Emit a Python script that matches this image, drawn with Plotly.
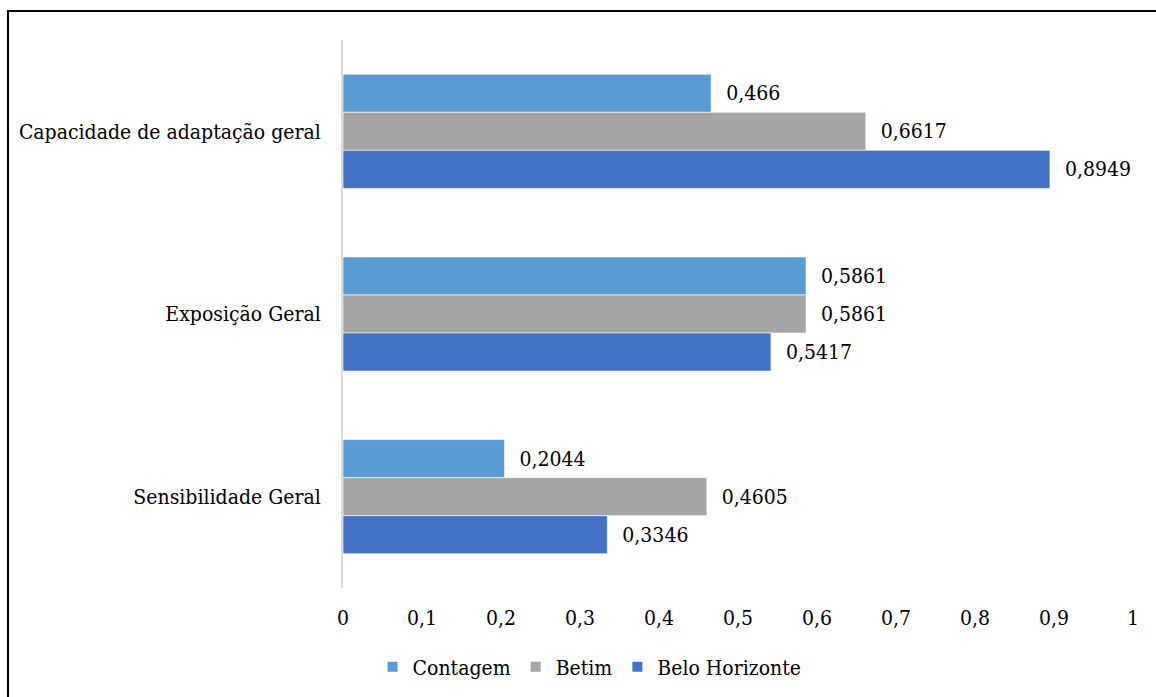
import plotly.graph_objects as go

categories = ["Capacidade de adaptação geral", "Exposição Geral", "Sensibilidade Geral"]
contagem = [0.466, 0.5861, 0.2044]
betim = [0.6617, 0.5861, 0.4605]
belo_horizonte = [0.8949, 0.5417, 0.3346]
series_names = ["Contagem", "Betim", "Belo Horizonte"]
tick_vals = [0, 0.1, 0.2, 0.3, 0.4, 0.5, 0.6, 0.7, 0.8, 0.9, 1]
tick_text = ["0", "0,1", "0,2", "0,3", "0,4", "0,5", "0,6", "0,7", "0,8", "0,9", "1"]

colors = ["#5B9BD5", "#A5A5A5", "#4472C4"]
FONT = "DejaVu Serif Condensed"
FS = 21

def fmt(v):
    return "\u00a0\u00a0" + (("%g" % v).replace(".", ","))

fig = go.Figure()
for name, vals, col in zip(series_names, [contagem, betim, belo_horizonte], colors):
    fig.add_trace(go.Bar(
        y=categories, x=vals, name=name, orientation="h",
        marker=dict(color=col, line=dict(color="white", width=0.6)),
        text=[fmt(v) for v in vals], textposition="outside",
        textfont=dict(family=FONT, size=FS, color="black"),
        cliponaxis=False,
    ))

L, R, T, B = 343, 23, 40, 109
W, H = 1156, 697
pw, ph = W - L - R, H - T - B

fig.update_layout(
    width=W, height=H,
    margin=dict(l=L, r=R, t=T, b=B, autoexpand=False),
    barmode="group", bargap=0.375, bargroupgap=0,
    plot_bgcolor="white", paper_bgcolor="white",
    font=dict(family=FONT, size=FS, color="black"),
    showlegend=True,
    legend=dict(orientation="h", xref="container", yref="container",
                x=0.51, xanchor="center", y=1 - 667 / H, yanchor="middle",
                font=dict(family=FONT, size=FS, color="black"),
                itemsizing="constant", itemwidth=30),
    xaxis=dict(range=[0, 1], tickvals=tick_vals, ticktext=tick_text,
               showgrid=False, zeroline=False, showline=False, automargin=False,
               ticks="outside", ticklen=11, tickcolor="rgba(0,0,0,0)",
               tickfont=dict(family=FONT, size=FS, color="black")),
    yaxis=dict(autorange="reversed", showgrid=False, zeroline=False, automargin=False,
               showline=True, linecolor="#D9D9D9", linewidth=2,
               ticks="outside", ticklen=16, tickcolor="rgba(0,0,0,0)",
               tickfont=dict(family=FONT, size=FS, color="black")),
    shapes=[dict(type="rect", xref="paper", yref="paper",
                 x0=(8 - L) / pw, x1=(W + 20 - L) / pw,
                 y0=(H - B - (H + 20)) / ph, y1=(H - B - 11) / ph,
                 line=dict(color="black", width=2), fillcolor="rgba(0,0,0,0)",
                 layer="below")],
)

fig.write_html("out.html")
